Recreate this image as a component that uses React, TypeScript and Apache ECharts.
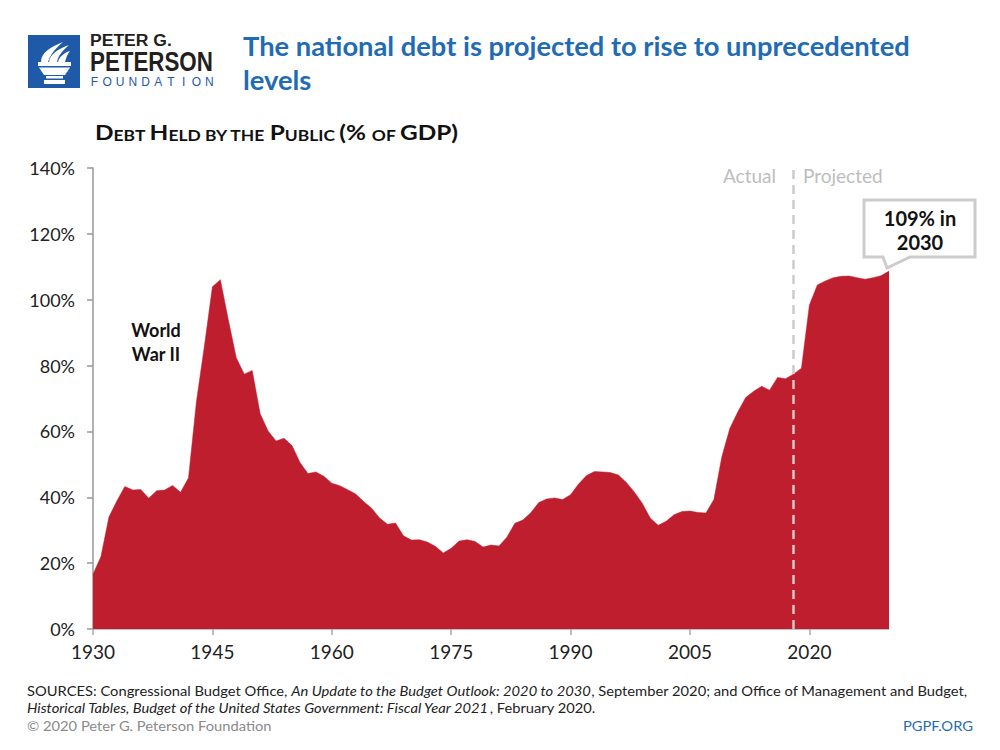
import React, { useEffect, useRef } from "react";
import * as echarts from "echarts";

const startYear = 1930;
const debtPct = [
  16.6, 22.0, 34.0, 38.9, 43.3, 42.2, 42.4, 39.7, 42.0, 42.2,
  43.6, 41.5, 45.9, 69.2, 86.0, 103.9, 106.1, 93.9, 82.4, 77.4,
  78.5, 65.4, 60.1, 57.1, 57.9, 55.7, 50.6, 47.2, 47.7, 46.4,
  44.3, 43.5, 42.3, 41.0, 38.7, 36.7, 33.7, 31.8, 32.2, 28.3,
  27.0, 27.1, 26.4, 25.1, 23.1, 24.5, 26.7, 27.1, 26.6, 24.9,
  25.5, 25.2, 27.9, 32.1, 33.1, 35.3, 38.4, 39.5, 39.8, 39.3,
  40.8, 44.0, 46.6, 47.8, 47.7, 47.5, 46.8, 44.5, 41.6, 38.2,
  33.7, 31.5, 32.7, 34.7, 35.7, 35.8, 35.4, 35.2, 39.3, 52.3,
  60.9, 65.9, 70.3, 72.2, 73.7, 72.5, 76.4, 76.0, 77.4, 79.2,
  98.4, 104.5, 105.7, 106.7, 107.1, 107.2, 106.7, 106.2, 106.7, 107.3, 108.7,
];
const years = debtPct.map((_, i) => startYear + i);
const projectionStart = 2018;
const yTicks = { min: 0, max: 140, interval: 20 };
const xTicks = { min: 1930, max: 2030, interval: 15 };

const titleLine1 = "The national debt is projected to rise to unprecedented";
const titleLine2 = "levels";
const calloutLines = ["109% in", "2030"];
const wwLines = ["World", "War II"];
const foundationLetters = "FOUNDATION".split("");

const RED = "#BE1E2D";
const BLUE = "#1F6BB4";
const LOGO_BLUE = "#1E5AA8";

function measure(text: string, font: string) {
  const c = document.createElement("canvas").getContext("2d");
  if (!c) return text.length * 8;
  c.font = font;
  return c.measureText(text).width;
}

const flamePath =
  "M13 27 C13 18 22 12 35 7 C29 12 23 18 20 27 Z " +
  "M21 27 C22 19 30 14 41 10 C35 15 30 21 29 27 Z " +
  "M30 27 C31 22 36 18 42 16 C39 20 38 23 37 27 Z";

let registered = false;
function ensureShapes() {
  if (registered) return;
  echarts.graphic.registerShape("flame", echarts.graphic.extendPath(flamePath, {}));
  registered = true;
}

export default function App() {
  const ref = useRef<HTMLDivElement>(null);
  useEffect(() => {
    if (!ref.current) return;
    ensureShapes();
    const chart = echarts.init(ref.current, undefined, { renderer: "svg" });

    const titleFont = 'bold 26px Lato';
    const titleScale = 667 / measure(titleLine1, titleFont);
    const footFont = '14px Lato';
    const foot1 =
      "SOURCES: Congressional Budget Office, An Update to the Budget Outlook: 2020 to 2030, September 2020; and Office of Management and Budget,";
    const footScale = 956 / measure(foot1, footFont);
    const p1Scale = 82 / measure("PETER G.", 'bold 17px "Liberation Sans"');
    const p2Scale = 123 / measure("PETERSON", 'bold 27px "Liberation Sans"');

    const bigF = 'bold 21px Lato';
    const smF = 'bold 15px Lato';
    const subParts: [string, string][] = [
      ["b", "D"], ["s", "EBT "], ["b", "H"], ["s", "ELD BY THE "], ["b", "P"], ["s", "UBLIC "],
      ["b", "(% "], ["s", "OF "], ["b", "GDP)"],
    ];
    const subW = subParts.reduce((a, [k, t]) => a + measure(t, k === "b" ? bigF : smF), 0);
    const subScale = 363 / subW;
    const subText = subParts.map(([k, t]) => `{${k}|${t}}`).join("");

    const data = years.map((y, i) => [y, debtPct[i]]);

    chart.setOption({
      animation: false,
      backgroundColor: "#ffffff",
      grid: { left: 93, right: 111, top: 168, bottom: 121, containLabel: false },
      xAxis: {
        type: "value",
        min: xTicks.min,
        max: xTicks.max,
        interval: xTicks.interval,
        axisLine: { show: true, lineStyle: { color: "#AAAAAA", width: 1.5 } },
        axisTick: { show: true, length: 6, lineStyle: { color: "#AAAAAA", width: 1.5 } },
        axisLabel: {
          showMaxLabel: false,
          color: "#222222",
          fontSize: 19,
          fontFamily: "Lato",
          margin: 13,
          formatter: (v: number) => String(v),
        },
        splitLine: { show: false },
      },
      yAxis: {
        type: "value",
        min: yTicks.min,
        max: yTicks.max,
        interval: yTicks.interval,
        axisLine: { show: true, lineStyle: { color: "#999999", width: 1.5 } },
        axisTick: { show: true, length: 6, lineStyle: { color: "#999999", width: 1.5 } },
        axisLabel: {
          color: "#222222",
          fontSize: 18,
          fontFamily: "Lato",
          margin: 18,
          formatter: "{value}%",
        },
        splitLine: { show: false },
      },
      series: [
        {
          type: "line",
          data,
          symbol: "none",
          lineStyle: { width: 0.5, color: RED },
          areaStyle: { color: RED, opacity: 1 },
          z: 2,
          markLine: {
            silent: true,
            symbol: "none",
            label: { show: false },
            lineStyle: { color: "#CCCCCC", width: 2.5, type: [9, 6] },
            data: [{ xAxis: projectionStart }],
            z: 5,
          },
        },
      ],
      graphic: [
        { type: "rect", shape: { x: 28, y: 35, width: 52, height: 53 }, style: { fill: LOGO_BLUE } },
        { type: "flame", x: 28, y: 35, style: { fill: "#ffffff" } },
        { type: "rect", shape: { x: 38, y: 62, width: 33, height: 4 }, style: { fill: "#ffffff" } },
        {
          type: "polygon",
          shape: { points: [[39, 67.5], [70, 67.5], [65, 75], [44, 75]] },
          style: { fill: "#ffffff" },
        },
        { type: "rect", shape: { x: 46, y: 76, width: 17, height: 2.5 }, style: { fill: "#ffffff" } },
        { type: "rect", shape: { x: 44, y: 80, width: 21, height: 4 }, style: { fill: "#ffffff" } },
        {
          type: "text", x: 90, y: 32, scaleX: p1Scale,
          style: { text: "PETER G.", fill: "#231F20", font: 'bold 17px "Liberation Sans"', textAlign: "left", textVerticalAlign: "top" },
        },
        {
          type: "text", x: 90, y: 48, scaleX: p2Scale,
          style: { text: "PETERSON", fill: "#231F20", font: 'bold 27px "Liberation Sans"', textAlign: "left", textVerticalAlign: "top" },
        },
        ...foundationLetters.map((ch, i) => ({
          type: "text",
          x: 94.5 + i * 12.75,
          y: 81.5,
          style: { text: ch, fill: LOGO_BLUE, font: '12px "Liberation Sans"', textAlign: "center", textVerticalAlign: "middle" },
        })),
        {
          type: "text", x: 243, y: 46, scaleX: titleScale,
          style: { text: titleLine1, fill: BLUE, font: titleFont, textAlign: "left", textVerticalAlign: "middle" },
        },
        {
          type: "text", x: 243, y: 80, scaleX: titleScale,
          style: { text: titleLine2, fill: BLUE, font: titleFont, textAlign: "left", textVerticalAlign: "middle" },
        },
        {
          type: "text", x: 95, y: 143, scaleX: subScale,
          style: {
            text: subText,
            textAlign: "left",
            textVerticalAlign: "bottom",
            rich: {
              b: { font: bigF, fill: "#111111", verticalAlign: "bottom", lineHeight: 21 },
              s: { font: smF, fill: "#111111", verticalAlign: "bottom", lineHeight: 15, padding: [0, 0, 1, 0] },
            },
          },
        },
        ...wwLines.map((t, i) => ({
          type: "text", x: 156, y: 330 + i * 23.5,
          style: { text: t, fill: "#111111", font: "bold 18px Lato", textAlign: "center", textVerticalAlign: "middle" },
        })),
        {
          type: "text", x: 776, y: 175,
          style: { text: "Actual", fill: "#BDBDBD", font: "19px Lato", textAlign: "right", textVerticalAlign: "middle" },
        },
        {
          type: "text", x: 803, y: 175,
          style: { text: "Projected", fill: "#BDBDBD", font: "19px Lato", textAlign: "left", textVerticalAlign: "middle" },
        },
        {
          type: "polygon",
          shape: { points: [[864, 200], [975, 200], [975, 257], [910, 257], [887, 268], [883, 257], [864, 257]] },
          style: { fill: "#ffffff", stroke: "#CCCCCC", lineWidth: 3, lineJoin: "miter" },
          z: 10,
        },
        ...calloutLines.map((t, i) => ({
          type: "text", x: 920, y: 218 + i * 23.5, z: 11,
          style: { text: t, fill: "#111111", font: "bold 20px Lato", textAlign: "center", textVerticalAlign: "middle" },
        })),
        {
          type: "text", x: 27, y: 691, scaleX: footScale,
          style: {
            text: "{r|SOURCES: Congressional Budget Office, }{i|An Update to the Budget Outlook: 2020 to 2030}{r|, September 2020; and Office of Management and Budget,}",
            textAlign: "left",
            textVerticalAlign: "middle",
            rich: {
              r: { font: footFont, fill: "#222222" },
              i: { font: "italic 14px Lato", fill: "#222222" },
            },
          },
        },
        {
          type: "text", x: 27, y: 708, scaleX: footScale,
          style: {
            text: "{i|Historical Tables, Budget of the United States Government: Fiscal Year 2021}{r|, February 2020.}",
            textAlign: "left",
            textVerticalAlign: "middle",
            rich: {
              r: { font: footFont, fill: "#222222" },
              i: { font: "italic 14px Lato", fill: "#222222" },
            },
          },
        },
        {
          type: "text", x: 27, y: 726, scaleX: footScale,
          style: { text: "© 2020 Peter G. Peterson Foundation", fill: "#8A8A8A", font: footFont, textAlign: "left", textVerticalAlign: "middle" },
        },
        {
          type: "text", x: 973, y: 726, scaleX: footScale,
          style: { text: "PGPF.ORG", fill: BLUE, font: footFont, textAlign: "right", textVerticalAlign: "middle" },
        },
      ],
    });
    return () => chart.dispose();
  }, []);
  return (
    <div
      ref={ref}
      style={{ position: "fixed", left: 0, top: 0, width: 1000, height: 750, background: "#fff" }}
    />
  );
}
